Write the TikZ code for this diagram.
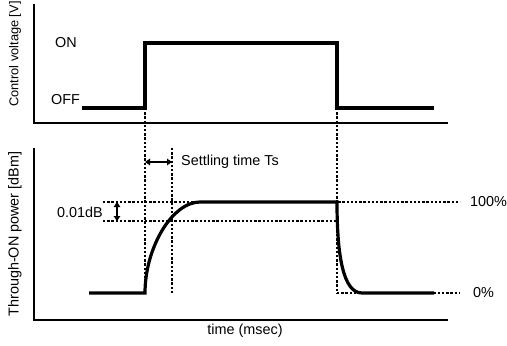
\documentclass[tikz,border=0pt]{standalone}
\usepackage{fontspec}
\setmainfont{Liberation Sans}
\usetikzlibrary{arrows.meta}
\begin{document}
\begin{tikzpicture}[x=1pt,y=-1pt,
  axis/.style={line width=1.6pt},
  signal/.style={line width=3.2pt,line join=miter},
  guide/.style={line width=1.5pt,dash pattern=on 2.4pt off 1.8pt},
  lbl/.style={font=\fontsize{14.4}{16}\selectfont,inner sep=0pt},
  dim/.style={line width=1.5pt,{Triangle[length=5pt,width=6.5pt]}-{Triangle[length=5pt,width=6.5pt]}}]
\useasboundingbox (0,0) rectangle (507,346);
% ---- coordinates
\coordinate (tA) at (34,4);
\coordinate (tO) at (34,123);
\coordinate (tE) at (448,123);
\coordinate (bA) at (34,148);
\coordinate (bO) at (34,320);
\coordinate (bE) at (448,320);
% top signal
\coordinate (s0) at (82,108);
\coordinate (s1) at (145,108);
\coordinate (s2) at (145,43);
\coordinate (s3) at (337,43);
\coordinate (s4) at (337,108);
\coordinate (s5) at (434,108);
% bottom power curve
\coordinate (p0) at (89,293);
\coordinate (p1) at (145,293);
\coordinate (p2) at (200,202);
\coordinate (p3) at (337,202);
\coordinate (p4) at (362,293);
\coordinate (p5) at (434,293);
% guides
\coordinate (g100a) at (103,202);
\coordinate (g100b) at (460,202);
\coordinate (g01a) at (103,221);
\coordinate (g01b) at (337,221);
\coordinate (g0a) at (337,293);
\coordinate (g0b) at (460,293);
\coordinate (ts0) at (172,148);
\coordinate (ts1) at (172,293);
\coordinate (ta) at (145,162);
\coordinate (tb) at (172,162);
\coordinate (da) at (117,202);
\coordinate (db) at (117,221);
% ---- axes
\draw[axis] (tA) -- (tO) -- (tE);
\draw[axis] (bA) -- (bO) -- (bE);
% ---- guides
\draw[guide] (s1) -- (p1);
\draw[guide] (s4) -- (g0a);
\draw[guide] (g0a) -- (g0b);
\draw[guide] (g100a) -- (g100b);
\draw[guide] (g01a) -- (g01b);
\draw[guide] (ts0) -- (ts1);
% ---- signals
\draw[signal] (s0) -- (s1) -- (s2) -- (s3) -- (s4) -- (s5);
\draw[signal] (p0) -- (p1) .. controls (145,248) and (172,202) .. (p2) -- (p3)
  .. controls (337,255) and (343,293) .. (p4) -- (p5);
% ---- dimension arrows
\draw[dim] (ta) -- (tb);
\draw[dim] (da) -- (db);
% ---- labels
\node[lbl,rotate=90] (ylt) at (15,54) {\fontsize{12.8}{14}\selectfont Control voltage [V]};
\node[lbl,rotate=90] (ylb) at (15,234) {Through-ON power [dBm]};
\node[lbl,anchor=west] (on) at (55,43) {ON};
\node[lbl,anchor=west] (off) at (51,100) {OFF};
\node[lbl,anchor=west] (st) at (181,162) {Settling time Ts};
\node[lbl,anchor=east] (d01) at (103,212) {0.01dB};
\node[lbl,anchor=west] (p100) at (470,202) {100\%};
\node[lbl,anchor=west] (p0l) at (473,293) {0\%};
\node[lbl] (xl) at (245,331) {time (msec)};
\end{tikzpicture}
\end{document}
